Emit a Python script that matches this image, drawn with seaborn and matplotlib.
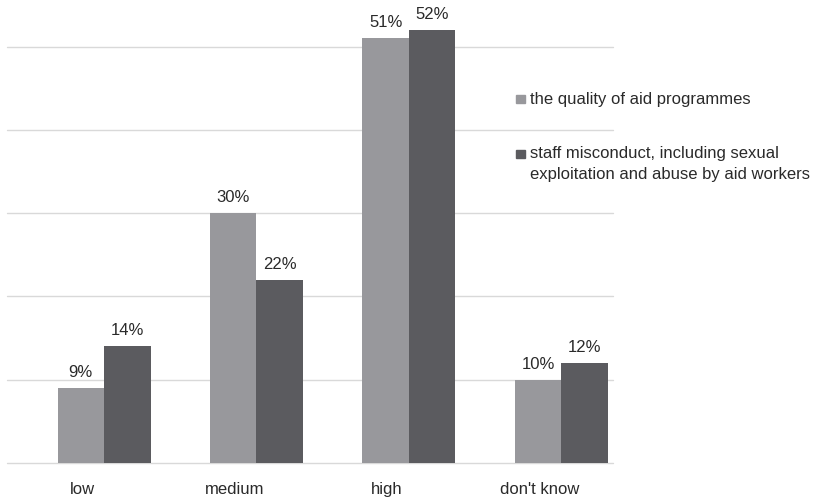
import matplotlib
matplotlib.use("Agg")
import matplotlib.pyplot as plt
from matplotlib.patches import Rectangle
from matplotlib.transforms import ScaledTranslation
import seaborn as sns
import pandas as pd

categories = ["low", "medium", "high", "don't know"]
series_names = ["the quality of aid programmes",
                "staff misconduct, including sexual\nexploitation and abuse by aid workers"]
quality = [9, 30, 51, 10]
misconduct = [14, 22, 52, 12]
colors = ["#98989c", "#5b5b5f"]

df = pd.DataFrame({
    "category": categories * 2,
    "value": quality + misconduct,
    "series": [series_names[0]] * 4 + [series_names[1]] * 4,
})

sns.set_theme(style="white")
plt.rcParams["font.family"] = ["Liberation Sans", "DejaVu Sans"]

FS = 12
TXT = "#2a2a2a"
W, H = 817, 499
fig = plt.figure(figsize=(W / 100, H / 100), dpi=100)
ax = fig.add_axes([7 / W, (H - 463) / H, (613 - 7) / W, 463 / H])

sns.barplot(data=df, x="category", y="value", hue="series", order=categories,
            hue_order=series_names, palette=colors, width=0.61,
            saturation=1, edgecolor="none", linewidth=0, ax=ax, legend=False)

ax.set_xlim(-0.637, 3.34)
ax.set_ylim(0, 55.6)
ax.set_yticks([0, 10, 20, 30, 40, 50])
ax.yaxis.grid(True, color="#d9d9d9", linewidth=1.0)
for gl in ax.get_ygridlines():
    gl.set_clip_on(False)
ax.set_axisbelow(True)
ax.tick_params(axis="y", left=False, labelleft=False)
ax.tick_params(axis="x", bottom=False, labelsize=FS, colors=TXT, pad=16)
ax.set_xlabel("")
ax.set_ylabel("")
for s in ax.spines.values():
    s.set_visible(False)

# category labels sit a little left of their bar pairs
shift = ScaledTranslation(-22 / 100, 0, fig.dpi_scale_trans)
for lbl in ax.get_xticklabels():
    lbl.set_transform(lbl.get_transform() + shift)
    lbl.set_verticalalignment("baseline")

# value labels above each bar
px = 55.6 / 463
for cont in ax.containers:
    for bar in cont:
        h = bar.get_height()
        ax.text(bar.get_x() + bar.get_width() / 2, h + 11 * px, f"{h:.0f}%",
                ha="center", va="baseline", fontsize=FS, color=TXT, clip_on=False)

# legend beside the plot area
for col, base in zip(colors, [103, 158]):
    fig.patches.append(Rectangle((516 / W, (H - base) / H), 8.5 / W, 8.5 / H,
                                 transform=fig.transFigure, color=col))
fig.text(530 / W, (H - 104) / H, series_names[0], ha="left", va="baseline",
         fontsize=FS, color=TXT)
for i, line in enumerate(series_names[1].split("\n")):
    fig.text(530 / W, (H - 158 - 21 * i) / H, line, ha="left", va="baseline",
             fontsize=FS, color=TXT)

fig.savefig("out.png", dpi=100)
